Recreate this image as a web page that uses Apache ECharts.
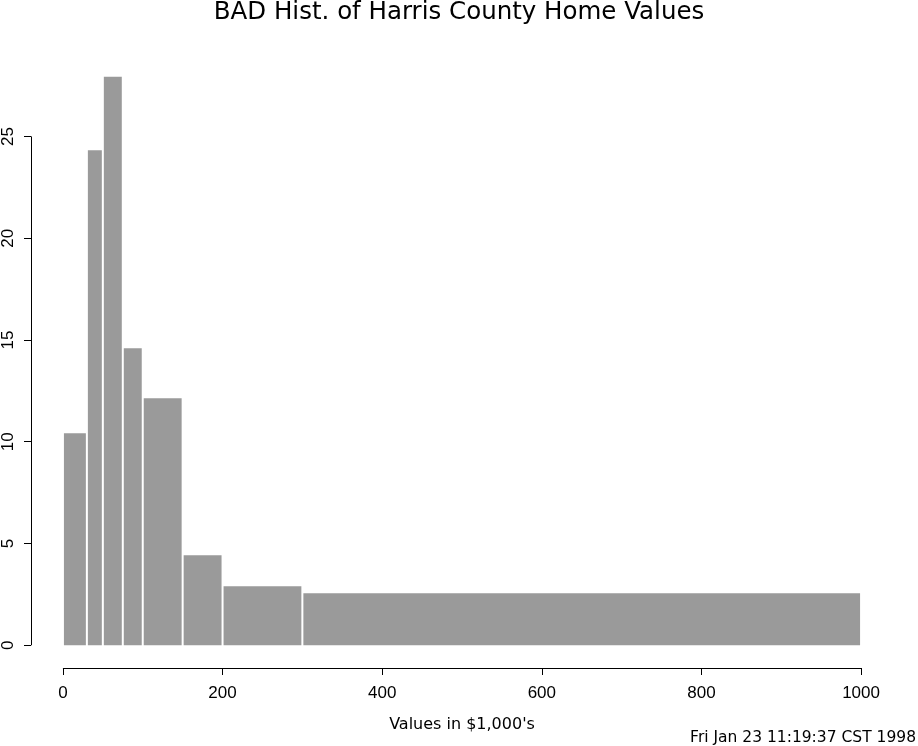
<!DOCTYPE html>
<html>
<head>
<meta charset="utf-8">
<script src="https://cdn.jsdelivr.net/npm/echarts@6/dist/echarts.min.js"></script>
<style>html,body{margin:0;padding:0;background:#fff;}#main{width:918px;height:746px;}</style>
</head>
<body>
<div id="main"></div>
<script>
const binStarts = [0, 30, 50, 75, 100, 150, 200, 300];
const binEnds = [30, 50, 75, 100, 150, 200, 300, 1000];
const heights = [10.42, 24.32, 27.93, 14.59, 12.14, 4.42, 2.90, 2.56];
const xTicks = [0, 200, 400, 600, 800, 1000];
const yTicks = [0, 5, 10, 15, 20, 25];
const titleText = 'BAD Hist. of Harris County Home Values';
const xTitle = "Values in $1,000's";
const footerText = 'Fri Jan 23 11:19:37 CST 1998';

const FONT = 'Liberation Sans';
const WIDE = 'DejaVu Sans';
const xMin = -40, xMax = 1040;
const yMin = -1.117, yMax = 29.05;

const data = binStarts.map((s, i) => [s, binEnds[i], heights[i]]);

const chart = echarts.init(document.getElementById('main'), null, {renderer: 'canvas'});
chart.setOption({
  animation: false,
  backgroundColor: '#fff',
  title: [
    {text: titleText, left: 'center', top: 0, padding: 0,
     textStyle: {fontFamily: WIDE, fontSize: 24.5, fontWeight: 'normal', color: '#000'}},
    {text: footerText, right: 2, bottom: 0, padding: 0,
     textStyle: {fontFamily: WIDE, fontSize: 15.5, fontWeight: 'normal', color: '#000'}}
  ],
  grid: {left: 30, right: 25, top: 54, bottom: 78, containLabel: false},
  xAxis: {
    type: 'value', min: xMin, max: xMax,
    name: xTitle, nameLocation: 'middle', nameGap: 49,
    nameTextStyle: {fontFamily: WIDE, fontSize: 16, color: '#000'},
    axisLine: {show: false, onZero: false},
    splitLine: {show: false},
    axisTick: {show: true, length: 7, customValues: xTicks, lineStyle: {color: '#000', width: 1}},
    axisLabel: {customValues: xTicks, formatter: v => String(v), fontFamily: FONT, fontSize: 17, color: '#000', margin: 17}
  },
  yAxis: {
    type: 'value', min: yMin, max: yMax,
    axisLine: {show: false, onZero: false},
    splitLine: {show: false},
    axisTick: {show: true, length: 7, customValues: yTicks, lineStyle: {color: '#000', width: 1}},
    axisLabel: {customValues: yTicks, formatter: v => String(v), rotate: 90, fontFamily: FONT, fontSize: 17, color: '#000', margin: 14}
  },
  series: [{
    type: 'custom',
    data: data,
    encode: {x: [0, 1], y: 2},
    renderItem: function (params, api) {
      const p0 = api.coord([api.value(0), api.value(2)]);
      const p1 = api.coord([api.value(1), 0]);
      return {
        type: 'rect',
        shape: {x: p0[0] + 1, y: p0[1], width: p1[0] - p0[0] - 2, height: p1[1] - p0[1]},
        style: {fill: '#9a9a9a'}
      };
    },
    markLine: {
      silent: true,
      symbol: ['none', 'none'],
      label: {show: false},
      lineStyle: {color: '#000', width: 1, type: 'solid'},
      data: [
        [{coord: [xTicks[0], yMin]}, {coord: [xTicks[xTicks.length - 1], yMin]}],
        [{coord: [xMin, yTicks[0]]}, {coord: [xMin, yTicks[yTicks.length - 1]]}]
      ]
    }
  }]
});
</script>
</body>
</html>
